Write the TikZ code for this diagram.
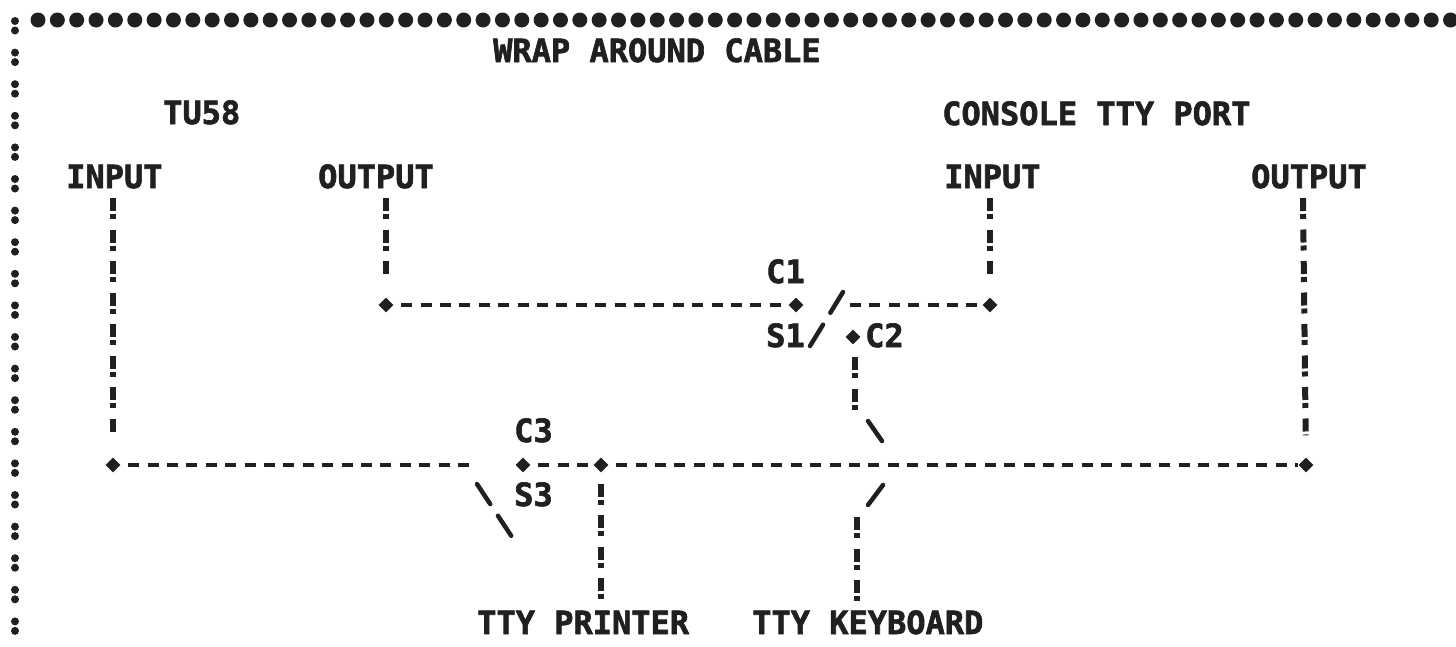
\documentclass[tikz,border=0pt]{standalone}
\usepackage{fontspec}
\setmonofont[BoldFeatures={FakeBold=2}]{DejaVu Sans Mono}
\usetikzlibrary{shapes.geometric}
\definecolor{ink}{RGB}{32, 32, 32}

\begin{document}
\begin{tikzpicture}[x=1pt, y=-1pt,
        lbl/.style={anchor=base west, inner sep=0pt, text=ink, font=\fontsize{32}{32}\selectfont\ttfamily\bfseries},
        tee/.style={diamond, fill=ink, inner sep=0pt, minimum size=15pt},
        hwire/.style={ink, line width=4pt, dash pattern=on 11pt off 8.4pt, dash phase=11.9pt},
        vwire/.style={ink, line width=6pt, dash pattern=on 13pt off 3pt on 5pt off 10.5pt},
        arm/.style={ink, line width=4.5pt, line cap=round},
        frametop/.style={ink, line width=15pt, line cap=round, dash pattern=on 0pt off 19.35pt},
        frameleft/.style={ink, line width=8pt, line cap=round, dash pattern=on 0pt off 9.5pt on 0pt off 22.1pt}
      ]
        \useasboundingbox (0,0) rectangle (1456,646);
        % frame
        \coordinate (topa) at (38,20);
        \coordinate (topb) at (1456,20);
        \coordinate (lefta) at (15,21);
        \coordinate (leftb) at (15,634);
        \draw[frametop] (topa) -- (topb);
        \draw[frameleft] (lefta) -- (leftb);
        % labels
        \node[lbl] (title) at (493,62) {WRAP AROUND CABLE};
        \node[lbl] (tu) at (163,124) {TU58};
        \node[lbl] (console) at (942,125) {CONSOLE TTY PORT};
        \node[lbl] (tuin) at (66,188) {INPUT};
        \node[lbl] (tuout) at (318,188) {OUTPUT};
        \node[lbl] (conin) at (944,188) {INPUT};
        \node[lbl] (conout) at (1251,188) {OUTPUT};
        \node[lbl] (cone) at (766,283) {C1};
        \node[lbl] (sone) at (766,347) {S1};
        \node[lbl] (ctwo) at (865,347) {C2};
        \node[lbl] (cthree) at (514,442) {C3};
        \node[lbl] (sthree) at (514,506) {S3};
        \node[lbl] (printer) at (477,634) {TTY PRINTER};
        \node[lbl] (keyboard) at (752,634) {TTY KEYBOARD};
        % junctions
        \node[tee] (ja) at (386,305) {};
        \node[tee] (jb) at (796,305) {};
        \node[tee] (jc) at (990,305) {};
        \node[tee] (jd) at (853,337) {};
        \node[tee] (je) at (113,465) {};
        \node[tee] (jf) at (523,465) {};
        \node[tee] (jg) at (601,465) {};
        \node[tee] (jh) at (1306,465) {};
        % free ends
        \coordinate (tuintop) at (113,198);
        \coordinate (tuouttop) at (386,198);
        \coordinate (conintop) at (990,198);
        \coordinate (conouttop) at (1303,198);
        \coordinate (jdtop) at (855,357);
        \coordinate (jdend) at (855,410);
        \coordinate (keytop) at (857,517);
        \coordinate (openl) at (473,465);
        \coordinate (openr) at (842.5,305);
        \coordinate (sonea) at (810,346);
        \coordinate (soneb) at (843,292);
        \coordinate (sthreea) at (477,484);
        \coordinate (sthreeb) at (512,537);
        \coordinate (stwoa) at (868,421);
        \coordinate (stwob) at (882,441);
        \coordinate (stwoc) at (868,505);
        \coordinate (stwod) at (883,485);
        % wires
        \draw[hwire] (ja) -- (jb);
        \draw[hwire] (openr) -- (jc);
        \draw[hwire] (je) -- (openl);
        \draw[hwire] (jf) -- (jg);
        \draw[hwire] (jg) -- (jh);
        \draw[vwire, shorten >=22pt] (tuouttop) -- (ja);
        \draw[vwire, shorten >=22pt] (conintop) -- (jc);
        \draw[vwire, shorten >=24pt] (tuintop) -- (je);
        \draw[vwire, shorten >=22pt] (conouttop) -- (jh);
        \draw[vwire] (jdtop) -- (jdend);
        \draw[vwire, shorten <=11pt, shorten >=7pt] (jg) -- (jg |- printer.north);
        \draw[vwire, shorten >=7pt] (keytop) -- (keytop |- keyboard.north);
        % switch arms
        \draw[arm, dash pattern=on 25pt off 14pt] (sonea) -- (soneb);
        \draw[arm, dash pattern=on 24pt off 14pt] (sthreea) -- (sthreeb);
        \draw[arm] (stwoa) -- (stwob);
        \draw[arm] (stwoc) -- (stwod);
      \end{tikzpicture}
\end{document}
